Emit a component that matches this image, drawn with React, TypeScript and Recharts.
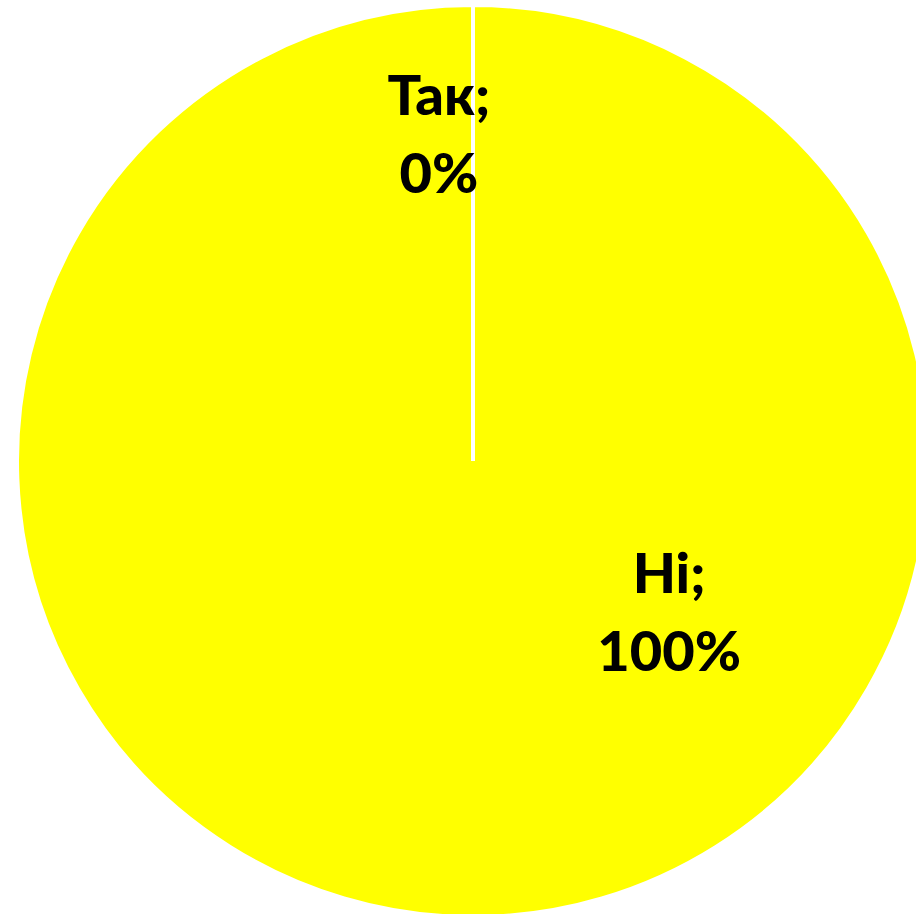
import React from "react";
import { PieChart, Pie, Cell } from "recharts";

const categories = ["Так", "Ні"];
const values = [0, 100];
const percentLabels = ["0%", "100%"];
const colors = ["#FFFF00", "#FFFF00"];

// label placement relative to the pie centre, in units of the outer radius
const labelOffsets = [
  { fx: -0.075, fy: -0.72 },
  { fx: 0.432, fy: 0.333 },
];

const data = categories.map((name, i) => ({ name, value: values[i] }));

const FONT = "Lato, 'Noto Sans', sans-serif";

const renderLabel = (props: any) => {
  const { cx, cy, outerRadius, index } = props;
  const off = labelOffsets[index];
  const r = outerRadius - 2;
  const x = cx + r * off.fx;
  const y = cy + r * off.fy;
  return (
    <text
      x={x}
      y={y}
      textAnchor="middle"
      fill="#000"
      fontFamily={FONT}
      fontWeight={900}
      fontSize={56}
    >
      <tspan x={x} dy={-19}>{categories[index] + ";"}</tspan>
      <tspan x={x} dy={78}>{percentLabels[index]}</tspan>
    </text>
  );
};

export default function App() {
  return (
    <div style={{ position: "absolute", left: 0, top: 0 }}>
      <PieChart width={916} height={914} margin={{ top: 0, right: 0, bottom: 0, left: 0 }}>
        <Pie
          data={data}
          dataKey="value"
          nameKey="name"
          cx={473}
          cy={461}
          innerRadius={0}
          outerRadius={456}
          startAngle={90}
          endAngle={-270}
          stroke="#FFFFFF"
          strokeWidth={4}
          label={renderLabel}
          labelLine={false}
          isAnimationActive={false}
        >
          {data.map((d, i) => (
            <Cell key={d.name} fill={colors[i]} />
          ))}
        </Pie>
      </PieChart>
    </div>
  );
}
